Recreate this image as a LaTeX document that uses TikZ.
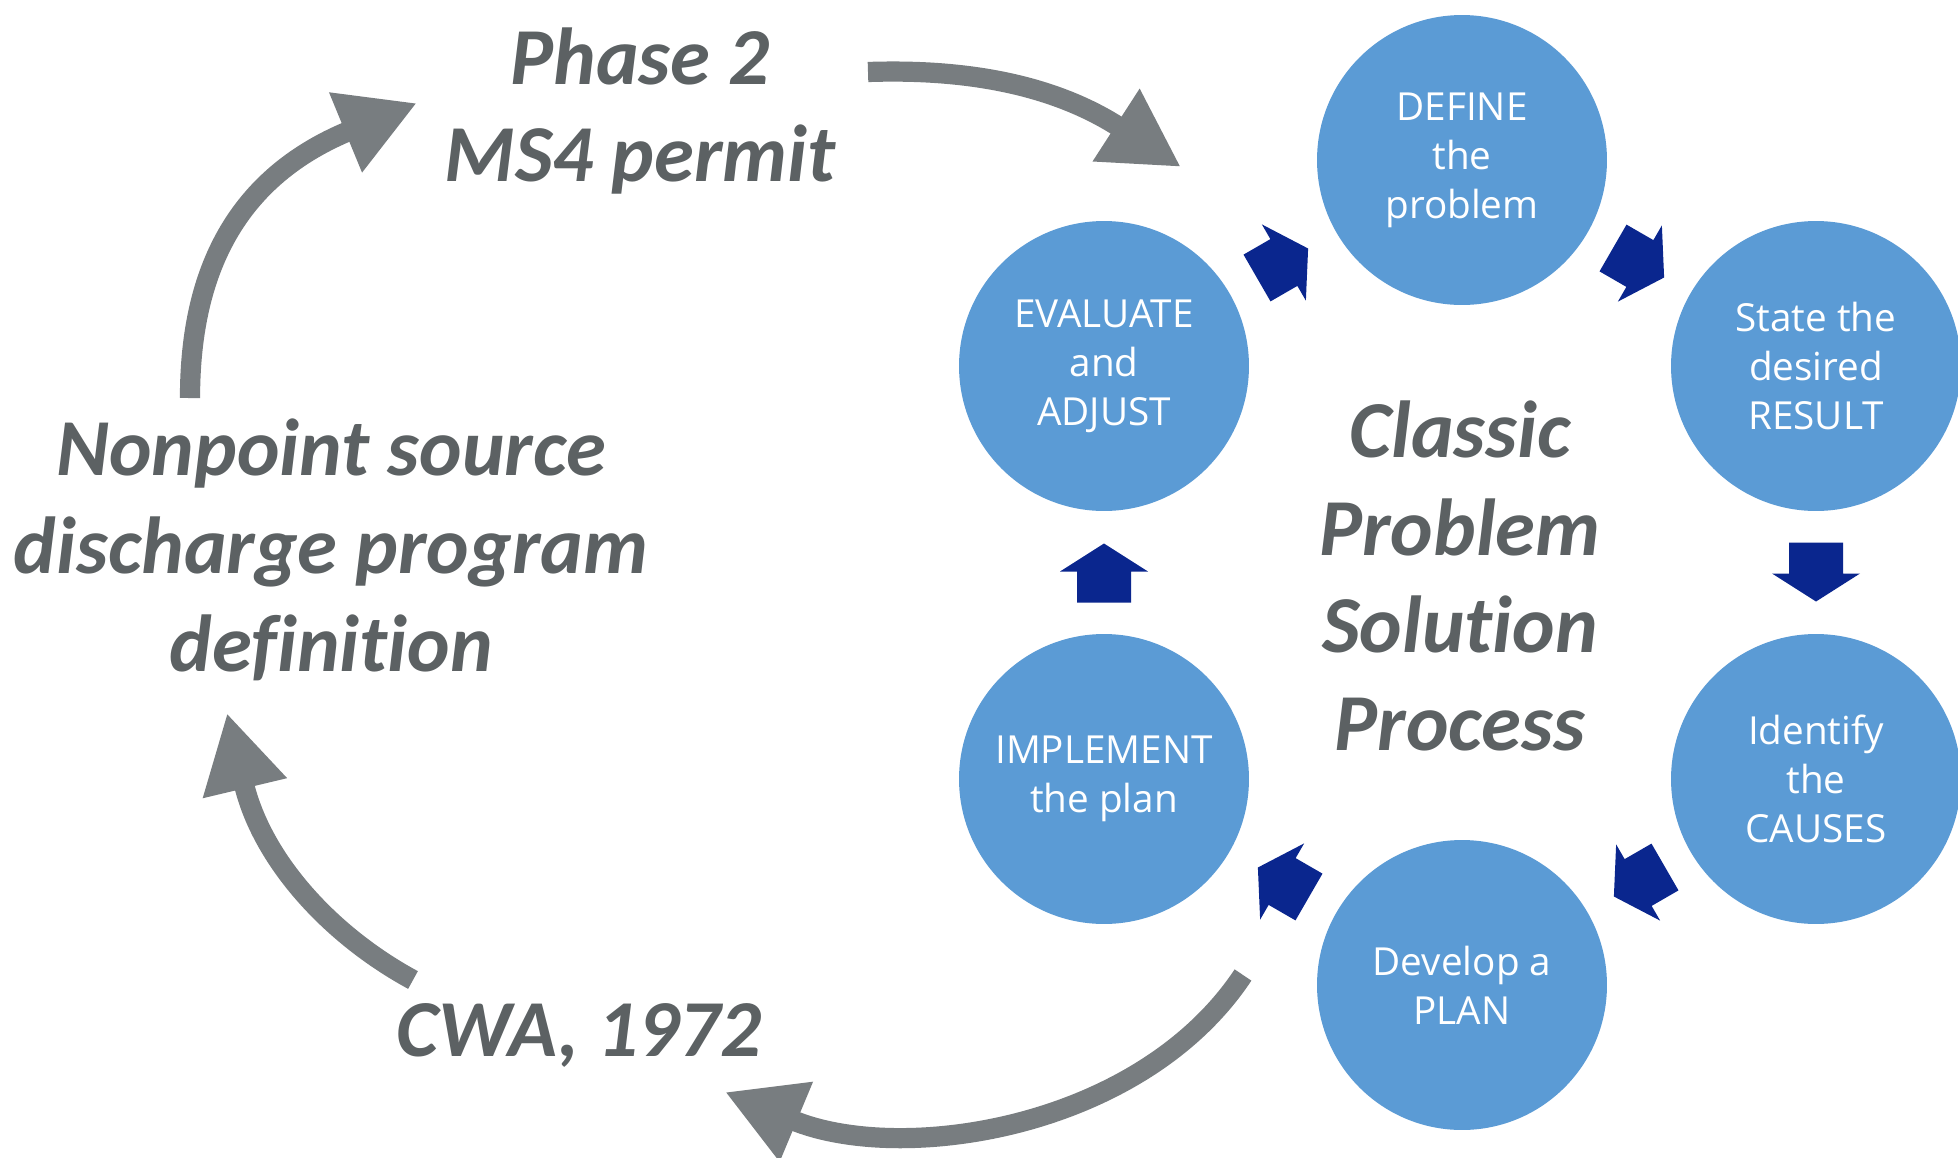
\documentclass[tikz,border=0pt]{standalone}
\usepackage{fontspec}
\usetikzlibrary{arrows.meta,calc,positioning}
\newfontfamily\notefont[Ligatures=CommonOff]{Carlito}
\newfontfamily\stagefont{Open Sans}
\definecolor{stageblue}{RGB}{91,155,213}
\definecolor{linknavy}{RGB}{10,38,142}
\definecolor{notegray}{RGB}{92,97,99}
\definecolor{sweepgray}{RGB}{120,125,128}

\begin{document}
\begin{tikzpicture}[
  x=0.02cm, y=-0.02cm,
  % --- Estilos ---
  stage/.style={
    circle,
    fill=stageblue,
    minimum size=5.8cm,
    inner sep=0pt,
    text=white,
    align=center,
    font=\stagefont\fontsize{22}{27.8}\selectfont
  },
  note/.style={
    text=notegray,
    align=center,
    font=\notefont\bfseries\itshape\fontsize{46}{55.6}\selectfont
  },
  sweep/.style={
    line width=11.5pt,
    draw=sweepgray,
    -{Triangle[width=46pt,length=44pt]}
  },
  link/.style={
    fill=linknavy
  }
]
\useasboundingbox (0,0) rectangle (1958,1157);
\fill[white] (0,0) rectangle (1958,1157);

% ---- CICLO DE SEIS PASOS ----
\coordinate (hub) at (1460,576);
\node[stage] (define) at (1462,160) {DEFINE\\the\\problem};
\node[stage] (result) at (1816,366) {State the\\desired\\RESULT};
\node[stage] (causes) at (1816,779) {Identify\\the\\CAUSES};
\node[stage] (plan) at (1462,985) {Develop a\\PLAN};
\node[stage] (implement) at (1104,779) {IMPLEMENT\\the plan};
\node[stage] (evaluate) at (1104,366) {EVALUATE\\and\\ADJUST};

\node[note] (title) at (hub) {Classic\\Problem\\Solution\\Process};

% ---- FLECHAS ENTRE PASOS ----
\foreach \from/\to/\dir in {evaluate/define/30, define/result/-30, result/causes/-90,
                            causes/plan/-150, plan/implement/150, implement/evaluate/90}
  \fill[link, shift={($(\from)!0.5!(\to)$)}, rotate=\dir]
    (-30,-27) -- (1,-27) -- (1,-44) -- (29,0) -- (1,44) -- (1,27) -- (-30,27) -- cycle;

% ---- HISTORIA DEL PROGRAMA ----
\node[note] (phase) at (640,111) {Phase 2\\MS4 permit};
\node[note] (nonpoint) at (331,550) {Nonpoint source\\discharge program\\definition};
\node[note] (cwa) at (579,1035) {CWA, 1972};

\coordinate (phaseout) at (868,72);
\coordinate (cyclein) at (1181,167);
\coordinate (nonpointout) at (190,398);
\coordinate (phasein) at (417,103);
\coordinate (cwaout) at (413,980);
\coordinate (nonpointin) at (227,713);
\coordinate (planout) at (1243,975);
\coordinate (cwain) at (725,1092);

% ---- CONEXIONES ----
\draw[sweep] (phaseout) .. controls (985,68) and (1065,92) .. (cyclein);
\draw[sweep] (nonpointout) .. controls (190,280) and (230,180) .. (phasein);
\draw[sweep] (cwaout) .. controls (330,935) and (262,860) .. (nonpointin);
\draw[sweep] (planout) .. controls (1140,1130) and (900,1165) .. (cwain);

\end{tikzpicture}
\end{document}
